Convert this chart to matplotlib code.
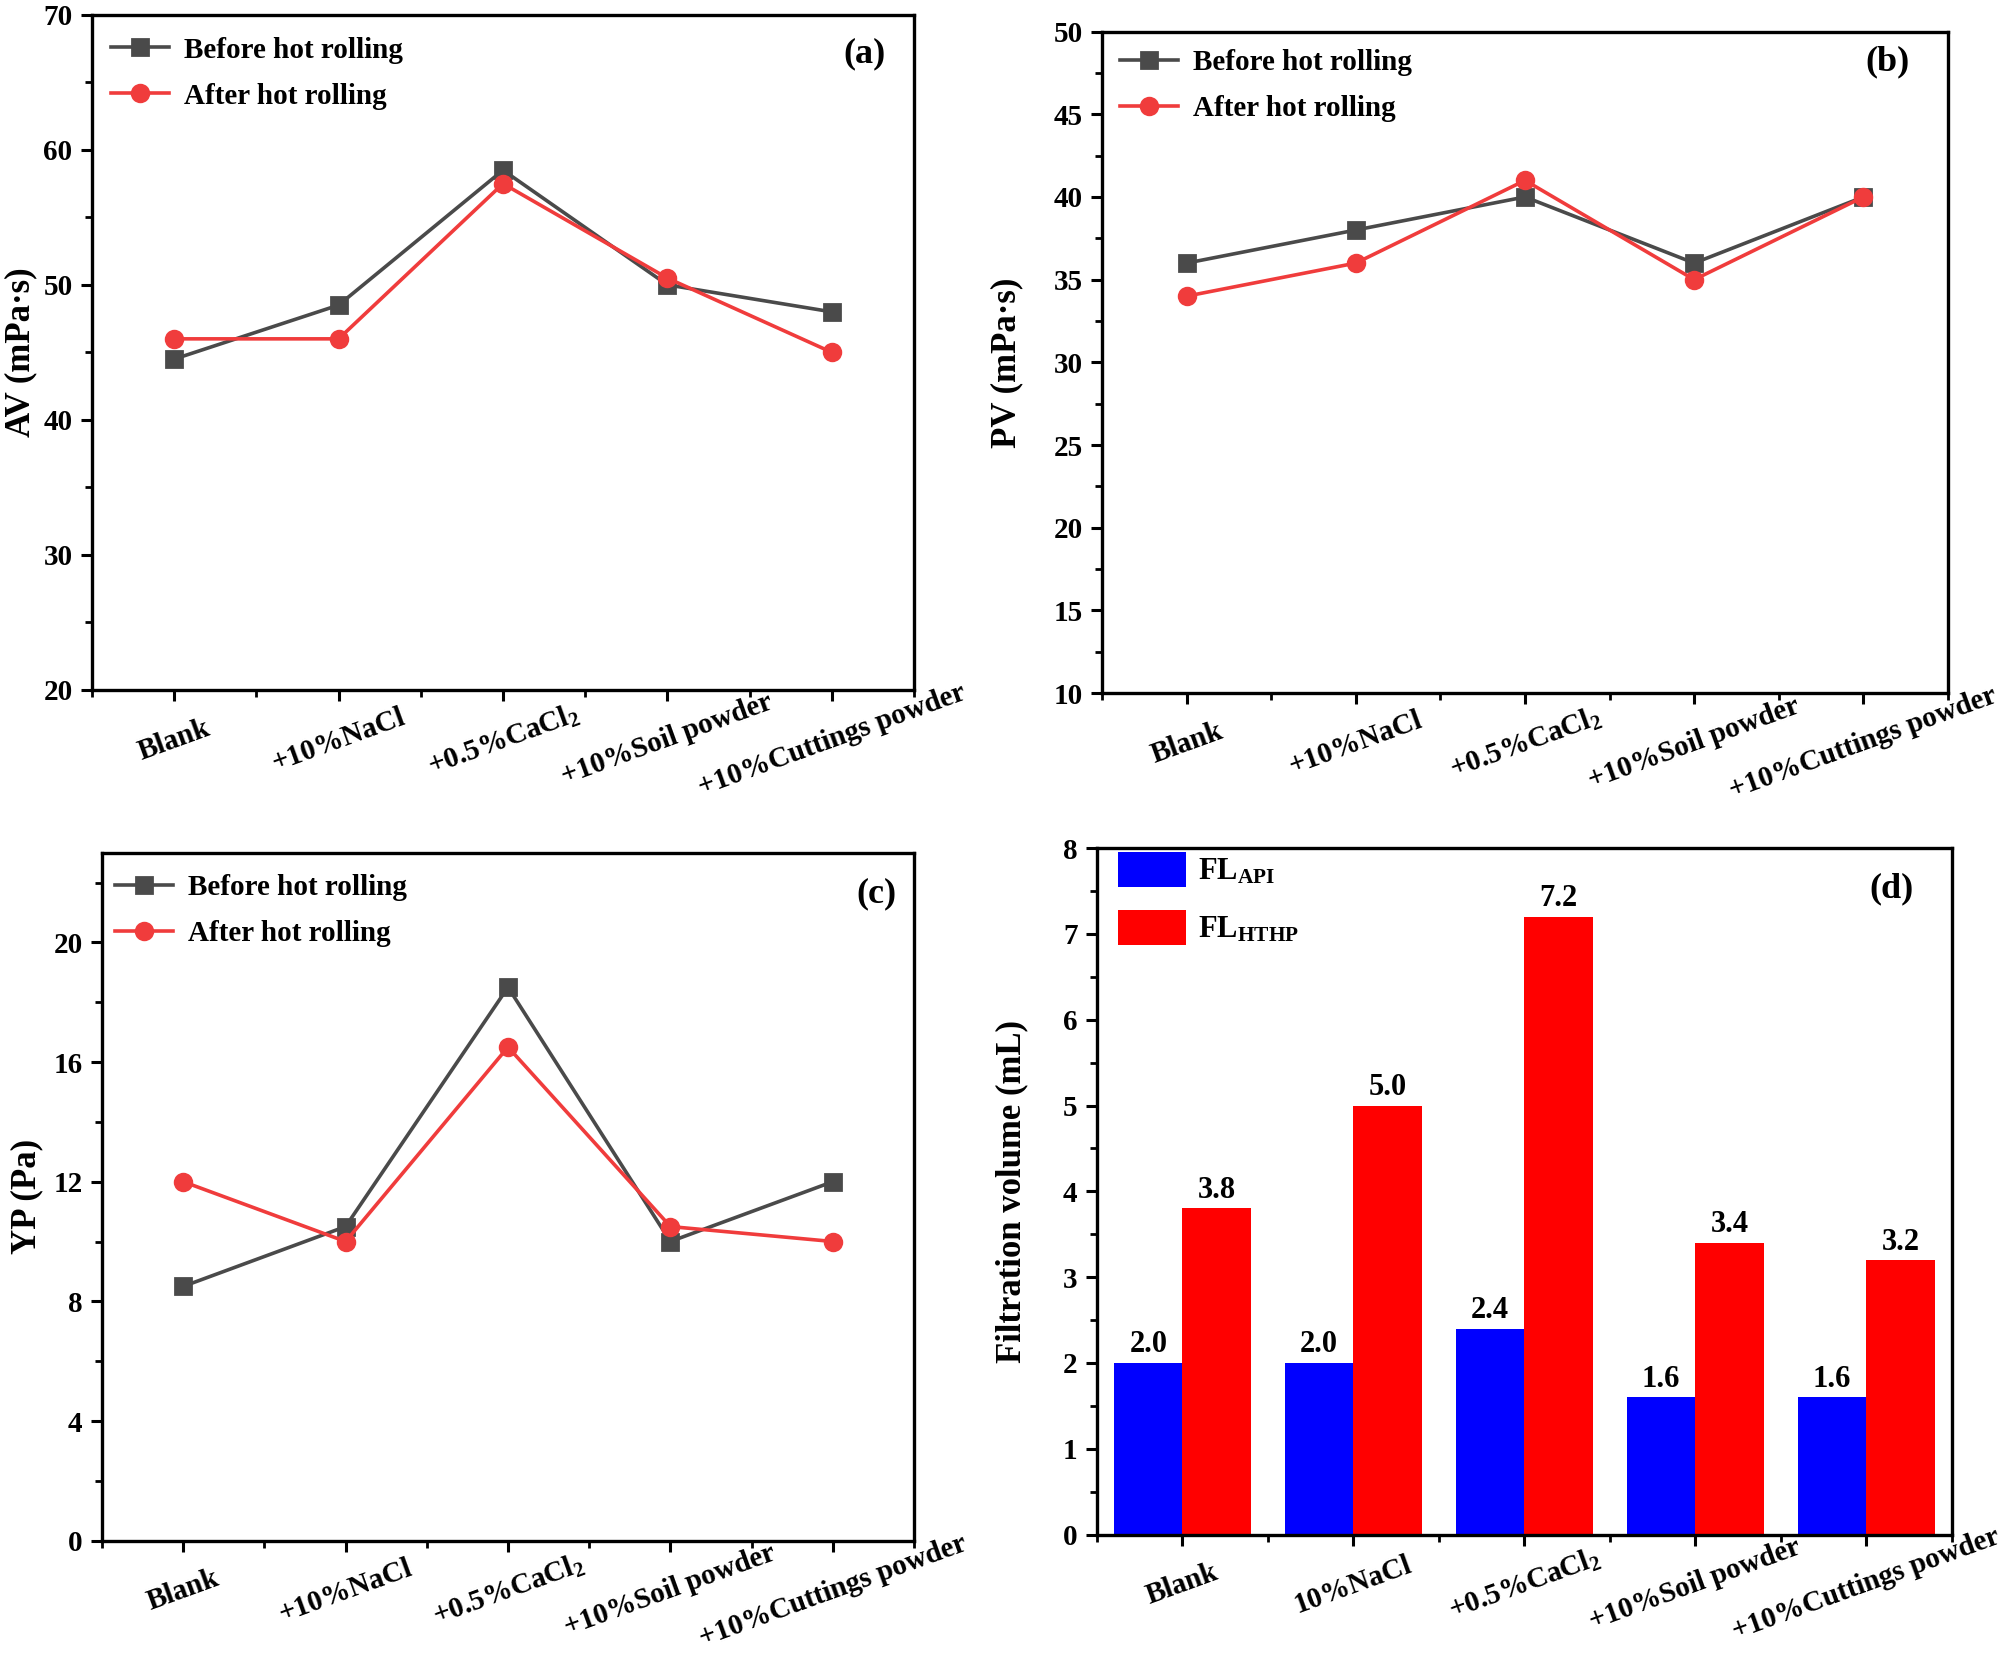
import matplotlib
matplotlib.use("Agg")
import matplotlib.pyplot as plt
from matplotlib.ticker import MultipleLocator, FixedLocator
import numpy as np

plt.rcParams['font.family'] = ['Liberation Serif', 'DejaVu Serif']
plt.rcParams['font.weight'] = 'bold'
plt.rcParams['mathtext.fontset'] = 'custom'
plt.rcParams['mathtext.rm'] = 'Liberation Serif:bold'
plt.rcParams['mathtext.bf'] = 'Liberation Serif:bold'
plt.rcParams['mathtext.it'] = 'Liberation Serif:bold'

categories = ['Blank', '+10%NaCl', r'+0.5%CaCl$_2$', '+10%Soil powder', '+10%Cuttings powder']
categories_d = ['Blank', '10%NaCl', r'+0.5%CaCl$_2$', '+10%Soil powder', '+10%Cuttings powder']

av_before = [44.5, 48.5, 58.5, 50.0, 48.0]
av_after = [46.0, 46.0, 57.5, 50.5, 45.0]
pv_before = [36, 38, 40, 36, 40]
pv_after = [34, 36, 41, 35, 40]
yp_before = [8.5, 10.5, 18.5, 10.0, 12.0]
yp_after = [12.0, 10.0, 16.5, 10.5, 10.0]
fl_api = [2.0, 2.0, 2.4, 1.6, 1.6]
fl_hthp = [3.8, 5.0, 7.2, 3.4, 3.2]

GRAY = '#4a4a4a'
RED = '#f03c3c'

fig = plt.figure(figsize=(10, 8.31), dpi=200)

def style_axes(ax, labels, ylim, major, minor, ylabel, ylab_x, panel, px, py):
    x = np.arange(1, len(labels) + 1)
    ax.set_xlim(0.5, len(labels) + 0.5)
    ax.set_ylim(*ylim)
    ax.yaxis.set_major_locator(MultipleLocator(major))
    ax.yaxis.set_minor_locator(MultipleLocator(minor))
    ax.xaxis.set_major_locator(FixedLocator(x))
    ax.xaxis.set_minor_locator(FixedLocator(np.arange(0.5, len(labels) + 1, 1.0)))
    ax.set_xticklabels(labels, rotation=20, ha='center', va='center', rotation_mode='anchor',
                       fontsize=10.5, fontweight='bold')
    ax.tick_params(axis='both', which='major', direction='out', length=4, width=1.1, labelsize=10.5)
    ax.tick_params(axis='both', which='minor', direction='out', length=2.5, width=1.0)
    ax.tick_params(axis='x', which='major', pad=14)
    ax.tick_params(axis='y', which='major', pad=3)
    for lab in ax.get_yticklabels():
        lab.set_fontweight('bold')
    for sp in ax.spines.values():
        sp.set_linewidth(1.2)
    ax.set_ylabel(ylabel, fontsize=12.5, fontweight='bold')
    ax.yaxis.set_label_coords(ylab_x, 0.5)
    ax.text(px, py, panel, transform=ax.transAxes, fontsize=13, fontweight='bold',
            ha='center', va='center')

def line_panel(rect, before, after, labels, ylim, major, minor, ylabel, ylab_x, panel, px, py, lx, ly):
    ax = fig.add_axes(rect)
    x = np.arange(1, len(labels) + 1)
    ax.plot(x, before, color=GRAY, lw=1.3, marker='s', ms=5.5, label='Before hot rolling', zorder=3)
    ax.plot(x, after, color=RED, lw=1.3, marker='o', ms=6, label='After hot rolling', zorder=4)
    style_axes(ax, labels, ylim, major, minor, ylabel, ylab_x, panel, px, py)
    leg = ax.legend(loc='upper left', bbox_to_anchor=(lx, ly), frameon=False, fontsize=10.5,
                    handlelength=2.0, handletextpad=0.5, labelspacing=0.65, borderaxespad=0,
                    borderpad=0)
    for t in leg.get_texts():
        t.set_fontweight('bold')
    return ax

line_panel([0.046, 0.585, 0.411, 0.406], av_before, av_after, categories, (20, 70), 10, 5,
           'AV (mPa·s)', -0.066, '(a)', 0.94, 0.943, 0.023, 0.968)
line_panel([0.551, 0.583, 0.423, 0.398], pv_before, pv_after, categories, (10, 50), 5, 2.5,
           'PV (mPa·s)', -0.093, '(b)', 0.928, 0.954, 0.021, 0.973)
line_panel([0.051, 0.073, 0.406, 0.414], yp_before, yp_after, categories, (0, 23), 4, 2,
           'YP (Pa)', -0.072, '(c)', 0.954, 0.94, 0.016, 0.969)

# Panel (d)
axd = fig.add_axes([0.5485, 0.0767, 0.4273, 0.413])
x = np.arange(1, len(categories_d) + 1)
w = 0.4
b1 = axd.bar(x - w / 2, fl_api, width=w, color='#0000ff', label=r'FL$_{\mathrm{API}}$', zorder=2)
b2 = axd.bar(x + w / 2, fl_hthp, width=w, color='#ff0000', label=r'FL$_{\mathrm{HTHP}}$', zorder=2)
for bars, vals in ((b1, fl_api), (b2, fl_hthp)):
    for r, v in zip(bars, vals):
        axd.text(r.get_x() + r.get_width() / 2, v + 0.04, f'{v:.1f}', ha='center', va='bottom',
                 fontsize=11, fontweight='bold')
style_axes(axd, categories_d, (0, 8), 1, 0.5, 'Filtration volume (mL)', -0.08, '(d)', 0.93, 0.94)
leg = axd.legend(loc='upper left', bbox_to_anchor=(0.025, 0.995), frameon=False, fontsize=11,
                 handlelength=2.2, handleheight=1.4, handletextpad=0.4, labelspacing=0.75,
                 borderaxespad=0, borderpad=0)

fig.savefig('out.png', dpi=200)
